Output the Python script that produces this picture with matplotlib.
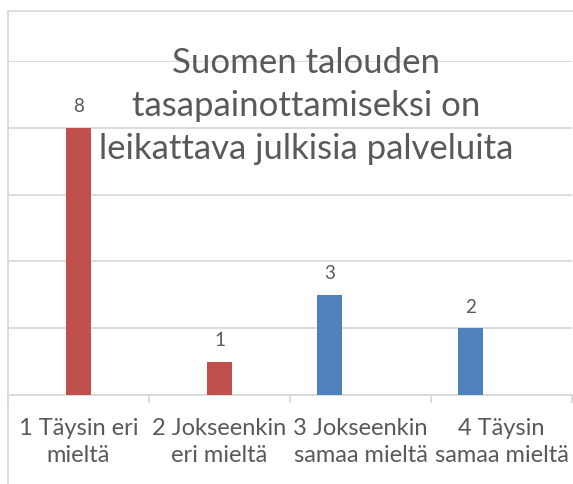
import matplotlib.pyplot as plt
from matplotlib.lines import Line2D

categories = ['1 Täysin eri\nmieltä', '2 Jokseenkin\neri mieltä',
              '3 Jokseenkin\nsamaa mieltä', '4 Täysin\nsamaa mieltä']
values = [8, 1, 3, 2]
colors = ['#C0504D', '#C0504D', '#4F81BD', '#4F81BD']
title = 'Suomen talouden\ntasapainottamiseksi on\nleikattava julkisia palveluita'

plt.rcParams['font.family'] = ['Lato', 'DejaVu Sans']
textColor = '#595959'
gridColor = '#D9D9D9'

fig = plt.figure(figsize=(5.73, 4.85), dpi=100)
ax = fig.add_axes([8/573, 89/485, 564/573, 334/485])

# blue bars sit left of their category centre in the original
offsets = [0.0 if c == '#C0504D' else -0.22 for c in colors]
x = [i + o for i, o in enumerate(offsets)]
ax.bar(x, values, width=0.175, color=colors, zorder=3)
for xi, v in zip(x, values):
    ax.text(xi, v + 0.4, str(v), ha='center', va='bottom', fontsize=13.5, color=textColor)

ax.set_xlim(-0.5, 3.5)
ax.set_ylim(0, 10)
ax.set_yticks([0, 2, 4, 6, 8, 10])
ax.yaxis.grid(True, color=gridColor, linewidth=1.3, zorder=0)
ax.tick_params(axis='y', left=False, labelleft=False)
ax.set_xticks(range(len(categories)))
ax.set_xticklabels(categories, fontsize=17, color=textColor, linespacing=1.35)
ax.tick_params(axis='x', length=0, pad=16)
ax.set_xticks([-0.5, 0.5, 1.5, 2.5, 3.5], minor=True)
ax.tick_params(axis='x', which='minor', length=6, color=gridColor, width=1.3)
for s in ['top', 'right', 'left']:
    ax.spines[s].set_visible(False)
ax.spines['bottom'].set_color(gridColor)
ax.spines['bottom'].set_linewidth(1.3)

# chart border (top and left)
fig.add_artist(Line2D([8/573, 1], [1 - 12/485, 1 - 12/485], color=gridColor, linewidth=1.3))
fig.add_artist(Line2D([8/573, 8/573], [0, 1 - 12/485], color=gridColor, linewidth=1.3))

fig.text(306/573, 1 - 47/485, title, ha='center', va='top', fontsize=25,
         color=textColor, linespacing=1.42)

fig.savefig('out.png', dpi=100)
